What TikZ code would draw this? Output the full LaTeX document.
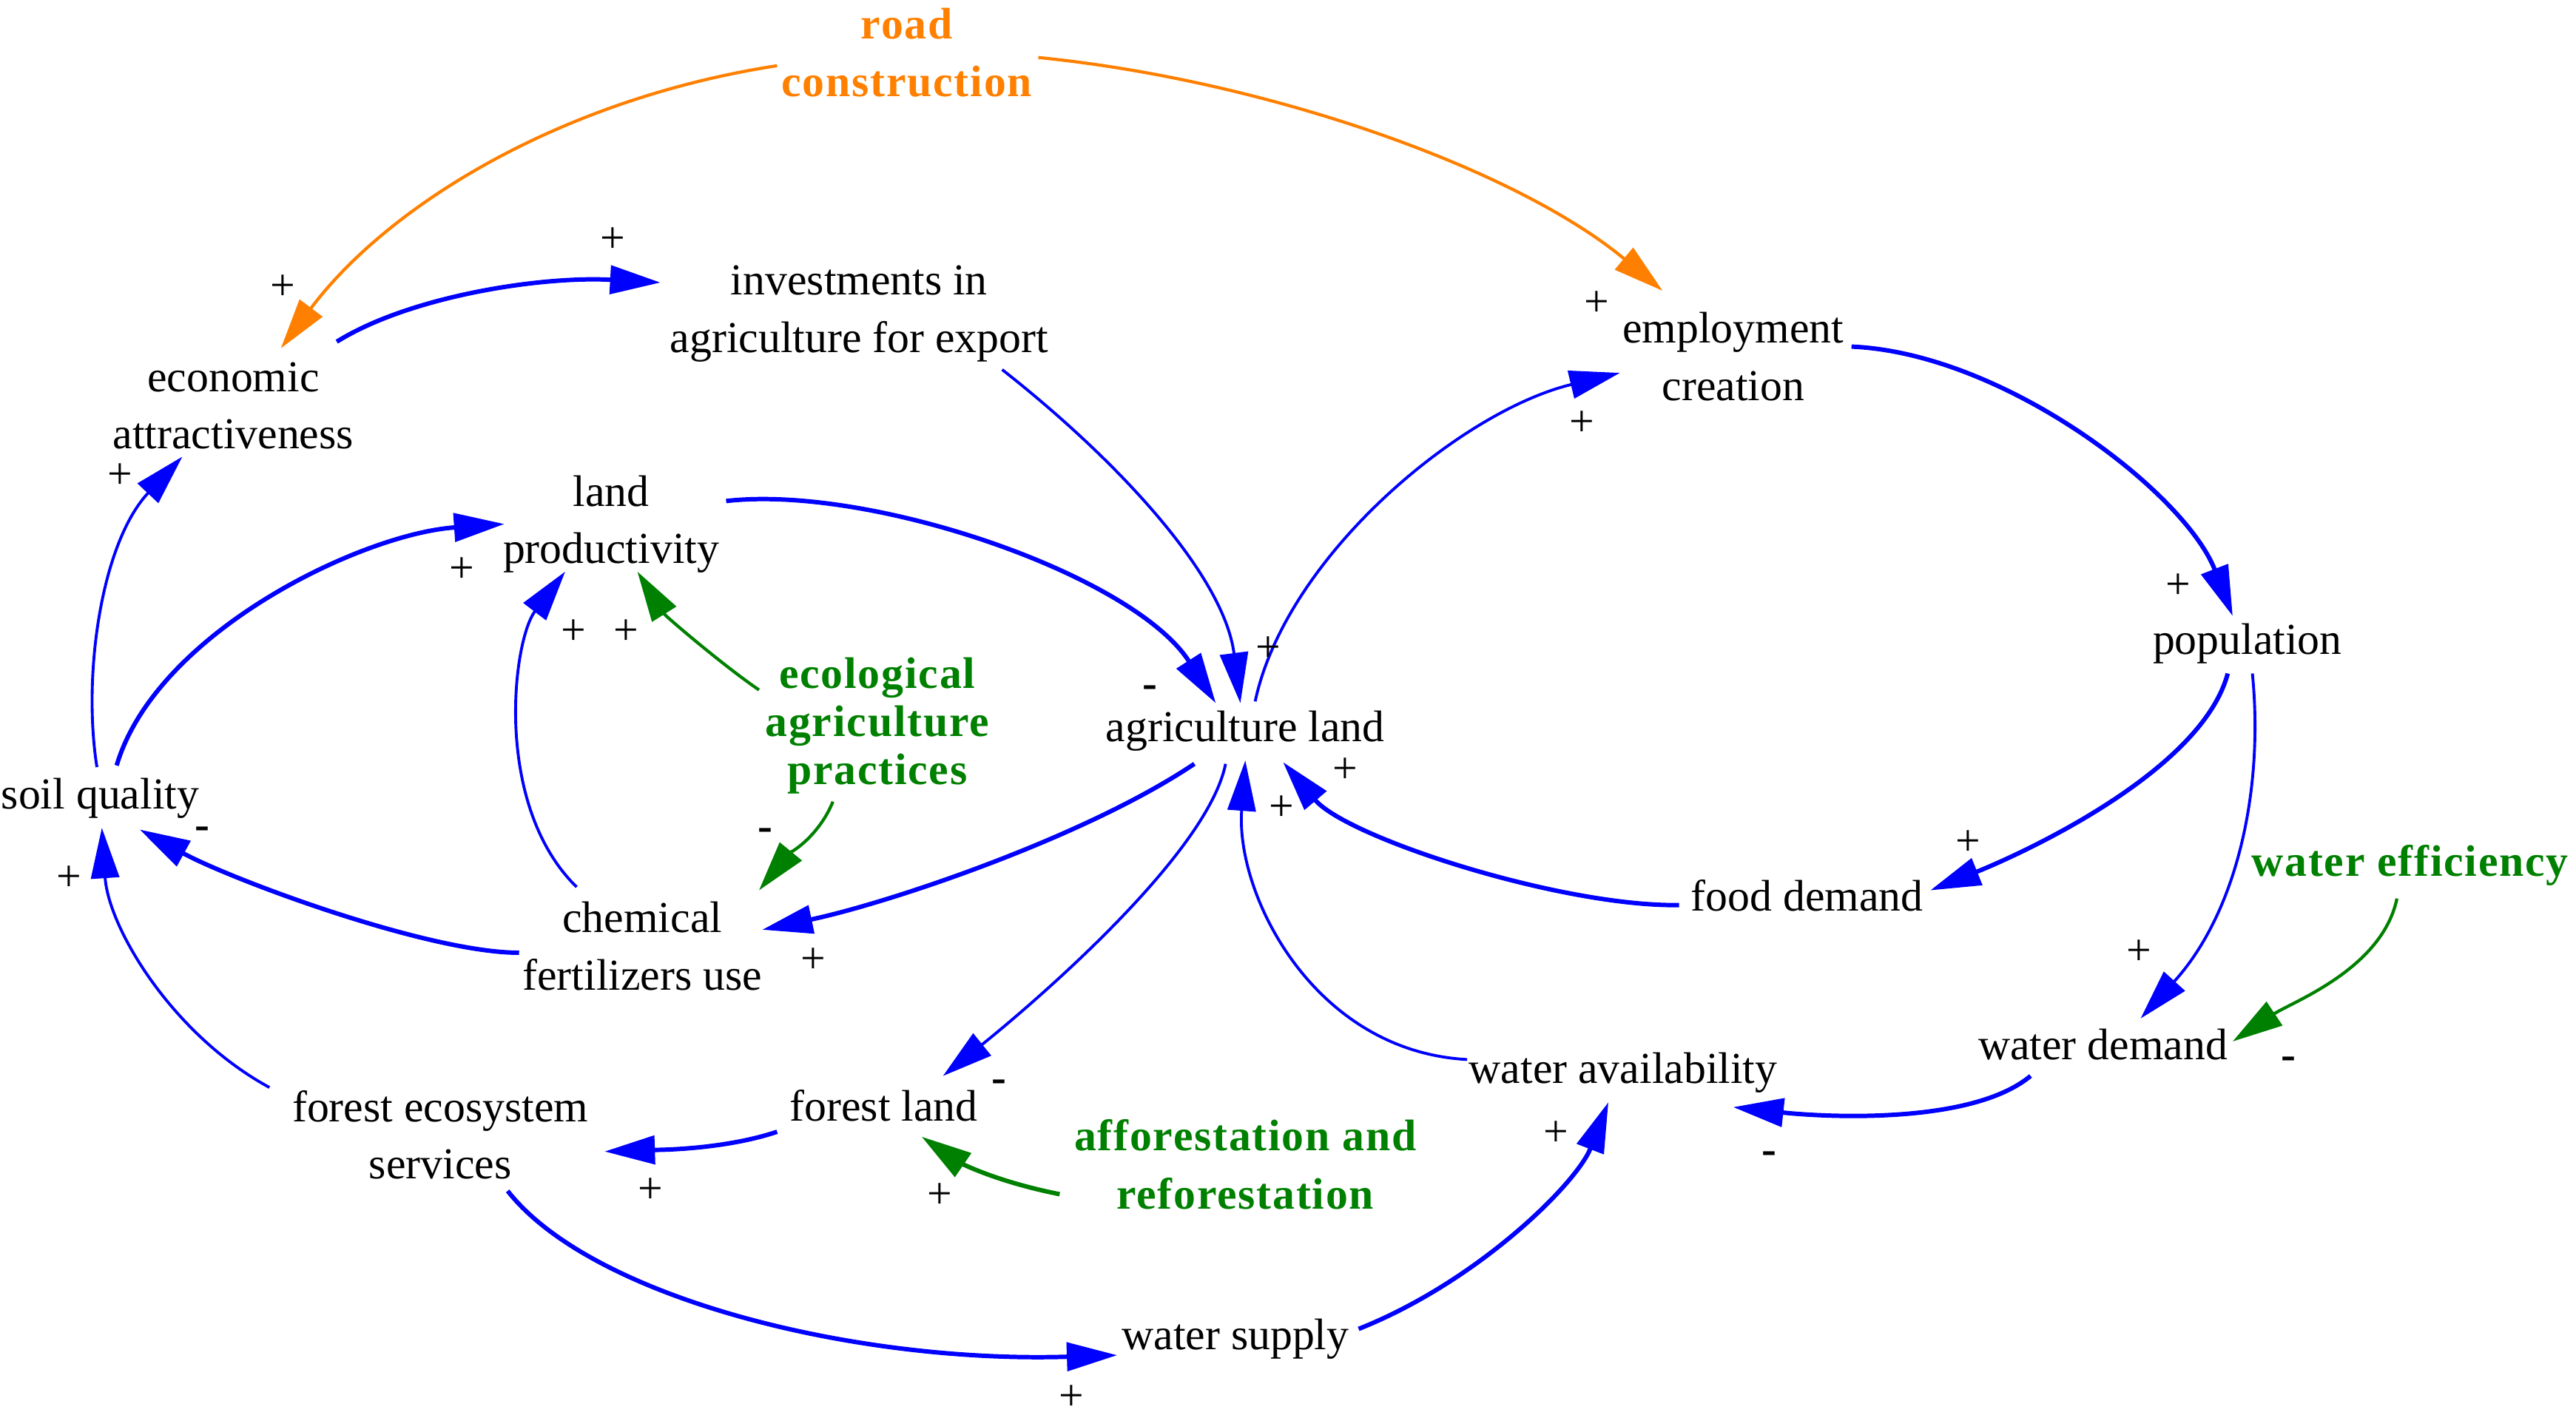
\documentclass[tikz,border=0pt]{standalone}
\usepackage{fontspec}
\setmainfont{Liberation Serif}
\newfontfamily\lab[LetterSpace=3]{Liberation Serif}
\usetikzlibrary{arrows.meta,calc}
\definecolor{vblue}{RGB}{0,0,255}
\definecolor{roadorange}{RGB}{255,128,0}
\definecolor{ecogreen}{RGB}{0,128,0}
\begin{document}
\begin{tikzpicture}[x=0.022207cm,y=-0.022207cm,
  var/.style={font=\fontsize{17}{22}\selectfont, align=center, inner sep=0pt},
  ctl/.style={font=\lab\bfseries\fontsize{17}{22}\selectfont, align=center, inner sep=0pt},
  sgn/.style={font=\fontsize{17}{20}\selectfont, inner sep=0pt},
  tip/.style={-{Triangle[length=0.68cm,width=0.38cm]}},
  lnk/.style={draw=vblue, line width=1.1pt, tip},
  lnkb/.style={draw=vblue, line width=1.7pt, tip},
  org/.style={draw=roadorange, line width=1.2pt, -{Triangle[length=0.68cm,width=0.38cm,fill=roadorange]}},
  grn/.style={draw=ecogreen, line width=1.2pt, tip},
  grnb/.style={draw=ecogreen, line width=1.7pt, tip}]
\useasboundingbox (0,0) rectangle (1568,863);

% variables
\node[ctl, text=roadorange] (road) at (552,32) {road\\construction};
\node[var] (inv) at (523,191) {investments in\\agriculture for export};
\node[var] (econ) at (142,247) {economic\\attractiveness};
\node[var] (emp) at (1055,217) {employment\\creation};
\node[var] (lprod) at (372,319) {land\\productivity};
\node[ctl, text=ecogreen, font=\lab\bfseries\fontsize{17}{18.5}\selectfont] (eco) at (534,442) {ecological\\agriculture\\practices};
\node[var] (agri) at (758,445) {agriculture land};
\node[var] (pop) at (1368,392) {population};
\node[var] (soil) at (61,486) {soil quality};
\node[var] (chem) at (391,576) {chemical\\fertilizers use};
\node[var] (food) at (1100,545) {food demand};
\node[ctl, text=ecogreen] (weff) at (1467,527) {water efficiency};
\node[var] (wdem) at (1280,636) {water demand};
\node[var] (wav) at (988,653) {water availability};
\node[var] (fes) at (268,691) {forest ecosystem\\services};
\node[var] (fland) at (538,673) {forest land};
\node[ctl, text=ecogreen, font=\lab\bfseries\fontsize{17}{22.5}\selectfont] (aff) at (758,709) {afforestation and\\reforestation};
\node[var] (wsup) at (752,815) {water supply};

% connectors
\draw[lnkb] ($(econ)+(63,-39)$) .. controls (250,180) and (330,168) .. ($(inv)+(-121,-19)$);
\draw[org] ($(road)+(-79,8)$) .. controls (343,60) and (237,124) .. ($(econ)+(29,-35)$);
\draw[org] ($(road)+(80,3)$) .. controls (772,49) and (923,103) .. ($(emp)+(-43,-40)$);
\draw[lnk] ($(inv)+(87,34)$) .. controls (680,280) and (745,350) .. ($(agri)+(-3,-17)$);
\draw[lnkb] ($(lprod)+(70,-14)$) .. controls (530,295) and (690,350) .. ($(agri)+(-18,-17)$);
\draw[lnk] ($(agri)+(6,-18)$) .. controls (783,338) and (890,250) .. ($(emp)+(-69,10)$);
\draw[lnkb] ($(emp)+(72,-6)$) .. controls (1220,215) and (1330,300) .. ($(pop)+(-9,-17)$);
\draw[lnkb] ($(pop)+(-12,18)$) .. controls (1340,470) and (1230,520) .. ($(food)+(75,-3)$);
\draw[lnk] ($(pop)+(3,18)$) .. controls (1378,480) and (1362,555) .. ($(wdem)+(23,-16)$);
\draw[lnkb] ($(food)+(-78,6)$) .. controls (950,552) and (820,510) .. ($(agri)+(23,19)$);
\draw[lnk] ($(wav)+(-95,-8)$) .. controls (800,640) and (752,545) .. ($(agri)+(0,18)$);
\draw[lnkb] ($(agri)+(-31,20)$) .. controls (660,510) and (540,550) .. ($(chem)+(73,-10)$);
\draw[lnk] ($(agri)+(-12,20)$) .. controls (735,520) and (630,610) .. ($(fland)+(36,-18)$);
\draw[lnkb] ($(wdem)+(-44,19)$) .. controls (1200,685) and (1110,680) .. ($(wav)+(67,21)$);
\draw[grn] ($(weff)+(-8,20)$) .. controls (1450,590) and (1395,610) .. ($(wdem)+(79,-2)$);
\draw[lnkb] ($(wsup)+(75,-6)$) .. controls (900,780) and (960,720) .. ($(wav)+(-9,18)$);
\draw[lnkb] ($(fes)+(41,34)$) .. controls (360,790) and (520,830) .. ($(wsup)+(-72,10)$);
\draw[lnk] ($(fes)+(-104,-29)$) .. controls (105,630) and (66,565) .. ($(soil)+(1,18)$);
\draw[lnkb] ($(fland)+(-65,16)$) .. controls (440,700) and (400,700) .. ($(fes)+(100,10)$);
\draw[grnb] ($(aff)+(-113,18)$) .. controls (600,718) and (580,705) .. ($(fland)+(23,19)$);
\draw[lnkb] ($(chem)+(-75,4)$) .. controls (260,580) and (140,535) .. ($(soil)+(24,19)$);
\draw[lnk] ($(chem)+(-40,-36)$) .. controls (300,490) and (312,390) .. ($(lprod)+(-28,29)$);
\draw[grn] ($(eco)+(-72,-22)$) .. controls (440,405) and (405,375) .. ($(lprod)+(16,29)$);
\draw[grn] ($(eco)+(-27,46)$) .. controls (498,510) and (480,520) .. ($(chem)+(71,-34)$);
\draw[lnkb] ($(soil)+(10,-20)$) .. controls (95,385) and (220,325) .. ($(lprod)+(-65,0)$);
\draw[lnk] ($(soil)+(-2,-19)$) .. controls (50,410) and (62,330) .. ($(econ)+(-31,31)$);

% polarity signs
\node[sgn] (s1) at (373,146) {+};
\node[sgn] (s2) at (172,175) {+};
\node[sgn] (s3) at (972,185) {+};
\node[sgn] (s4) at (963,258) {+};
\node[sgn] (s5) at (73,290) {+};
\node[sgn] (s6) at (281,347) {+};
\node[sgn] (s7) at (349,385) {+};
\node[sgn] (s8) at (381,385) {+};
\node[sgn] (s9) at (772,395) {+};
\node[sgn] (s10) at (700,421) {\bfseries -};
\node[sgn] (s11) at (1326,357) {+};
\node[sgn] (s12) at (819,469) {+};
\node[sgn] (s13) at (780,492) {+};
\node[sgn] (s14) at (123,507) {\bfseries -};
\node[sgn] (s15) at (466,508) {\bfseries -};
\node[sgn] (s16) at (42,535) {+};
\node[sgn] (s17) at (1198,513) {+};
\node[sgn] (s18) at (495,585) {+};
\node[sgn] (s19) at (1302,580) {+};
\node[sgn] (s20) at (608,661) {\bfseries -};
\node[sgn] (s21) at (1393,647) {\bfseries -};
\node[sgn] (s22) at (947,690) {+};
\node[sgn] (s23) at (1077,705) {\bfseries -};
\node[sgn] (s24) at (396,725) {+};
\node[sgn] (s25) at (572,728) {+};
\node[sgn] (s26) at (652,851) {+};
\end{tikzpicture}
\end{document}
